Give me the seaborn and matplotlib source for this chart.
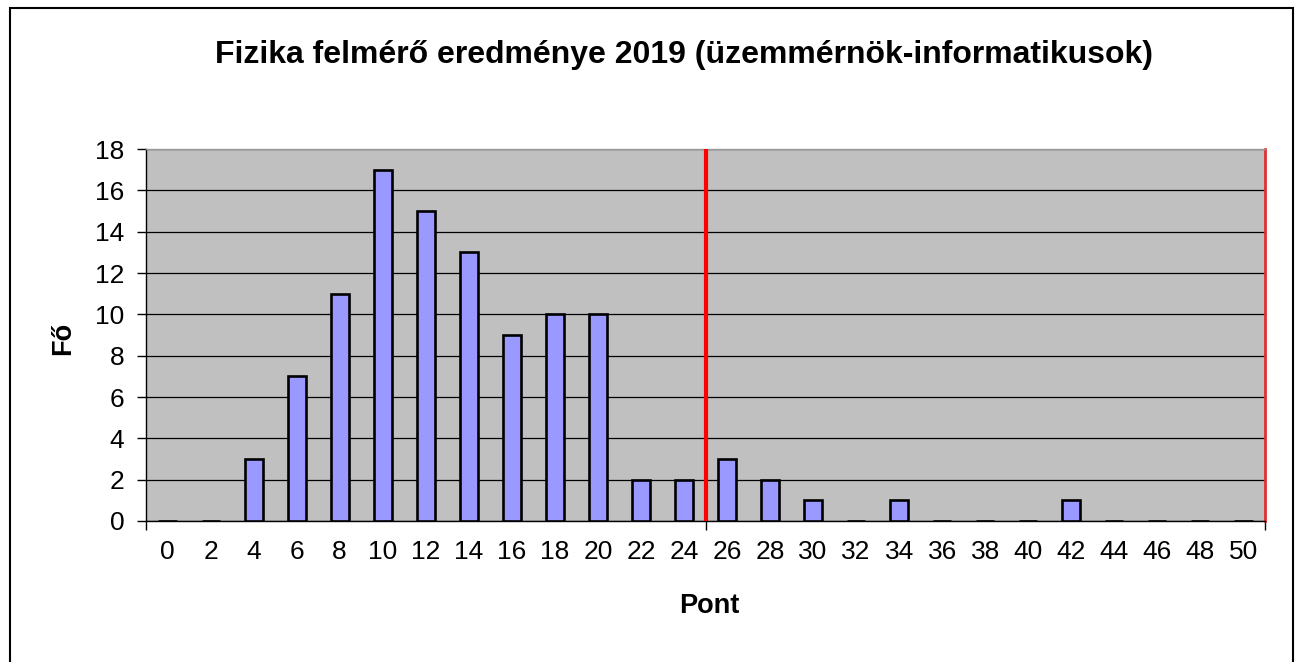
import matplotlib
matplotlib.use('Agg')
import matplotlib.pyplot as plt
from matplotlib.patches import Rectangle
import seaborn as sns

# Data
points = [str(p) for p in range(0, 51, 2)]
counts = [0, 0, 3, 7, 11, 17, 15, 13, 9, 10, 10, 2, 2, 3, 2, 1, 0, 1, 0, 0, 0, 1, 0, 0, 0, 0]
y_ticks = list(range(0, 19, 2))
limit_pos = 12.5  # red line between 24 and 26

sns.set_style('white')
plt.rcParams['font.family'] = ['Liberation Sans', 'DejaVu Sans']
plt.rcParams['text.color'] = 'black'
plt.rcParams['xtick.color'] = 'black'
plt.rcParams['ytick.color'] = 'black'

fig = plt.figure(figsize=(12.97, 6.62), dpi=100)
ax = fig.add_axes([146 / 1297, 1 - 521 / 662, (1265 - 146) / 1297, (521 - 149) / 662])
ax.set_facecolor('#c0c0c0')

sns.barplot(x=points, y=counts, order=points, color='#9999ff', saturation=1,
            width=0.42, edgecolor='black', linewidth=1.9, ax=ax, zorder=3)

ax.set_xlim(-0.5, len(points) - 0.5)
ax.set_ylim(0, 18)
ax.set_yticks(y_ticks)
ax.yaxis.grid(True, color='black', linewidth=0.9, zorder=1)
ax.set_axisbelow(True)

ax.axvline(limit_pos, color='red', linewidth=3, zorder=4)

for side in ['left', 'bottom']:
    ax.spines[side].set_color('black')
    ax.spines[side].set_linewidth(1.0)
ax.spines['top'].set_color('#999999')
ax.spines['top'].set_linewidth(1.0)
ax.spines['right'].set_color('#e03030')
ax.spines['right'].set_linewidth(2.0)

ax.tick_params(axis='y', direction='out', length=6.5, width=1, color='black',
               labelsize=19, pad=9, left=True)
ax.tick_params(axis='x', which='major', length=0, labelsize=19, pad=14)
ax.set_xticks([-0.5, limit_pos, len(points) - 0.5], minor=True)
ax.tick_params(axis='x', which='minor', direction='out', length=6.5, width=1,
               color='black', bottom=True)

ax.set_xlabel('')
ax.set_ylabel('')
fig.text(709 / 1297, 1 - 606 / 662, 'Pont', ha='center', va='center',
         fontsize=19.5, fontweight='bold')
fig.text(63 / 1297, 1 - 338 / 662, 'Fő', ha='center', va='center',
         fontsize=19.5, fontweight='bold', rotation=90)
fig.text(684 / 1297, 1 - 55 / 662, 'Fizika felmérő eredménye 2019 (üzemmérnök-informatikusok)',
         ha='center', va='center', fontsize=23, fontweight='bold')

# chart-area frame (bottom edge is outside the image)
fig.add_artist(Rectangle((9.5 / 1297, -0.05), (1293 - 9.5) / 1297, 1.05 - 8.5 / 662,
                         transform=fig.transFigure, fill=False, edgecolor='black',
                         linewidth=1.5, clip_on=False))

fig.savefig('out.png', dpi=100)
